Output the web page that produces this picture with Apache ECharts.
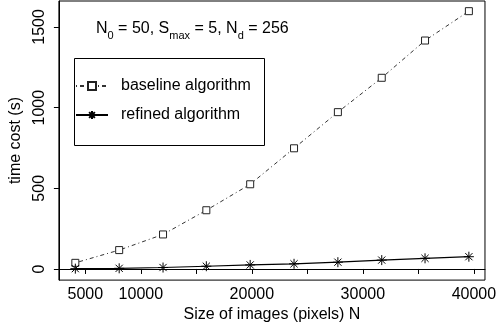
<!DOCTYPE html>
<html>
<head>
<meta charset="utf-8">
<script src="https://cdn.jsdelivr.net/npm/echarts@6/dist/echarts.min.js"></script>
<style>html,body{margin:0;padding:0;background:#fff}#c{width:499px;height:328px}</style>
</head>
<body>
<div id="c"></div>
<script>
const imageSizes = [4100, 8050, 12000, 15900, 19850, 23800, 27750, 31700, 35600, 39550];
const baselineCost = [38, 117, 214, 364, 525, 748, 972, 1185, 1416, 1598];
const refinedCost = [2, 4, 9, 17, 25, 32, 42, 55, 66, 76];
const xTickValues = [5000, 10000, 15000, 20000, 25000, 30000, 35000, 40000];
const xLabelValues = [5000, 10000, 20000, 30000, 40000];
const yTickValues = [0, 500, 1000, 1500];
const seriesNames = ['baseline algorithm', 'refined algorithm'];

const FONT = 'Liberation Sans';
const FS = 16;
const chart = echarts.init(document.getElementById('c'), null, {renderer: 'canvas'});
const asterisk = 'path://M0,-1L0,1M-1,0L1,0M-0.72,-0.72L0.72,0.72M-0.72,0.72L0.72,-0.72';
const plain = v => String(v);

chart.setOption({
  animation: false,
  backgroundColor: '#fff',
  textStyle: {fontFamily: FONT, color: '#000'},
  grid: {left: 54, right: 10, top: 1, bottom: 42, show: true, borderColor: '#000', borderWidth: 1, backgroundColor: 'transparent'},
  title: {
    text: '{n|N}{s|0}{n| = 50, S}{s|max}{n| = 5, N}{s|d}{n| = 256}',
    left: 96, top: 19, padding: 0,
    textStyle: {
      fontWeight: 'normal',
      rich: {
        n: {fontFamily: FONT, fontSize: FS, fontWeight: 'normal', color: '#000', lineHeight: 18, verticalAlign: 'bottom'},
        s: {fontFamily: FONT, fontSize: 11, fontWeight: 'normal', color: '#000', lineHeight: 18, verticalAlign: 'bottom', padding: [0, 0, -4, 0]}
      }
    }
  },
  legend: {
    data: seriesNames,
    orient: 'vertical',
    left: 75, top: 78,
    itemWidth: 32, itemHeight: 10, itemGap: 13,
    textStyle: {fontFamily: FONT, fontSize: FS, color: '#000', padding: [0, 0, 0, 8]},
    padding: 0
  },
  graphic: [{
    type: 'rect', left: 72, top: 56, shape: {width: 190, height: 87},
    style: {fill: 'none', stroke: '#000', lineWidth: 1}, z: 100
  }],
  xAxis: {
    type: 'value', min: 2620, max: 41000,
    name: 'Size of images (pixels) N', nameLocation: 'middle', nameGap: 21,
    nameTextStyle: {fontFamily: FONT, fontSize: FS, color: '#000'},
    axisLine: {show: true, lineStyle: {color: '#000', width: 1}},
    axisTick: {show: true, inside: false, length: 5, customValues: xTickValues, lineStyle: {color: '#000'}},
    axisLabel: {customValues: xLabelValues, formatter: plain, margin: 6, fontFamily: FONT, fontSize: FS, color: '#000'},
    splitLine: {show: false}
  },
  yAxis: {
    type: 'value', min: -69, max: 1661,
    name: 'time cost (s)', nameLocation: 'middle', nameGap: 34, nameRotate: 90,
    nameTextStyle: {fontFamily: FONT, fontSize: FS, color: '#000'},
    axisLine: {show: true, lineStyle: {color: '#000', width: 1}},
    axisTick: {show: true, length: 5, customValues: yTickValues, lineStyle: {color: '#000'}},
    axisLabel: {customValues: yTickValues, formatter: plain, rotate: 90, margin: 11, fontFamily: FONT, fontSize: FS, color: '#000'},
    splitLine: {show: false}
  },
  series: [{
    name: seriesNames[0], type: 'line',
    data: imageSizes.map((x, i) => [x, baselineCost[i]]),
    symbol: 'rect', symbolSize: 7, showSymbol: true,
    itemStyle: {color: '#fff', borderColor: '#222', borderWidth: 1},
    lineStyle: {color: '#333', width: 1, type: [1, 3, 4, 3]},
    z: 3
  }, {
    name: seriesNames[1], type: 'line',
    data: imageSizes.map((x, i) => [x, refinedCost[i]]),
    symbol: asterisk, symbolSize: 10, showSymbol: true,
    itemStyle: {color: 'none', borderColor: '#000', borderWidth: 1},
    lineStyle: {color: '#000', width: 1.2},
    z: 4
  }]
});
</script>
</body>
</html>
